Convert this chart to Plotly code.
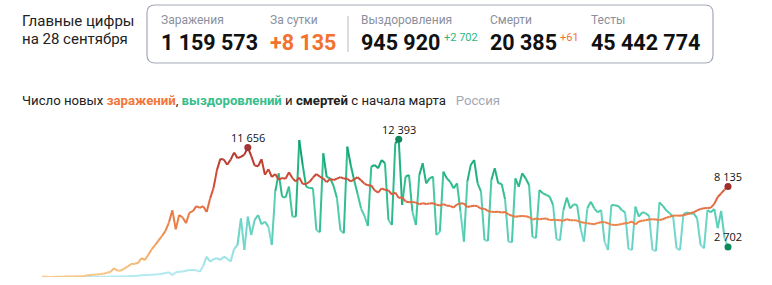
import plotly.graph_objects as go
import pandas as pd

# ---------------- data ----------------
dates = pd.date_range("2020-03-12", "2020-09-28", freq="D")

infections = [
    20, 14, 11, 5, 30, 20, 30, 50, 50, 55, 60, 70, 60,
    160, 180, 200, 230, 270, 300, 390, 480, 780, 570, 580, 750, 950, 1170, 1200, 1250,
    1700, 1530, 2000, 2500, 2880, 3300, 3700, 4150, 4900, 6000, 4300, 5580, 5350, 4850,
    5800, 5930, 6380, 6220, 6370, 5850, 7050, 8000, 9620, 10630, 10580, 10100, 10560,
    11200, 10700, 10820, 11010, 11656, 10900, 10030, 9970, 10600, 9200, 9700, 9000,
    9260, 8760, 8900, 8850, 9430, 8900, 8600, 8950, 8370, 8370, 8570, 8950, 9270, 9035,
    8860, 8536, 8830, 8726, 8855, 8985, 8858, 8835, 8595, 8779, 8987, 8706, 8404, 8248,
    8246, 7790, 7600, 7972, 7843, 7790, 7425, 7600, 7113, 7176, 6800, 6719, 6760, 6693,
    6556, 6632, 6562, 6611, 6635, 6509, 6428, 6562, 6422, 6406, 6248, 6537, 6611, 6615,
    6303, 6368, 6422, 6361, 6139, 6150, 5940, 5862, 5842, 5871, 5811, 5848, 5635, 5509,
    5427, 5462, 5482, 5475, 5394, 5159, 5267, 5204, 5241, 5267, 5118, 5159, 5129, 5102,
    5061, 5212, 5102, 5118, 5077, 4945, 4892, 4828, 4785, 4748, 4870, 4921, 4941, 4838,
    4711, 4676, 4696, 4767, 4829, 4870, 4993, 4729, 4995, 5065, 5110, 5185, 5190, 5172,
    5130, 5200, 5340, 5420, 5520, 5530, 5520, 5560, 5640, 5730, 5820, 6000, 6120, 6180,
    6200, 6240, 6570, 7200, 7520, 7870, 8135,
]

recoveries = [
    0, 0, 0, 0, 1, 1, 2, 2, 3, 3, 5, 5, 8, 8, 10, 12, 15, 20, 25, 30, 35,
    40, 45, 50, 60, 70, 80, 90, 120, 150, 180, 180, 200, 220, 250, 300, 350, 420, 150,
    420, 480, 500, 560, 630, 620, 600, 480, 1000, 1830, 1380, 1600, 1700, 1530, 1830,
    1650, 1400, 2520, 2880, 5280, 2430, 5430, 3780, 5130, 5580, 4740, 4980, 4530, 2880,
    7680, 9330, 7230, 7150, 8130, 5430, 5430, 12330, 10080, 8130, 8000, 7980, 4230, 4020,
    11130, 9000, 8880, 8200, 7080, 4200, 3930, 11730, 10080, 8730, 7500, 6180, 5500, 4600,
    9930, 10080, 9780, 10530, 10230, 5130, 4680, 12030, 12393, 6480, 9030, 9180, 5880,
    4680, 9180, 10230, 8430, 8880, 9030, 3780, 4080, 9480, 8880, 8580, 7980, 8430, 5880,
    3180, 8580, 10080, 10530, 8430, 7680, 3330, 3240, 8730, 9780, 8430, 8400, 7000, 3180,
    3120, 8880, 8130, 9330, 8880, 8280, 3600, 3500, 7830, 7530, 7400, 7230, 6480, 3400,
    3300, 6000, 7140, 6180, 6540, 6480, 4380, 3180, 6180, 6780, 6180, 5820, 6030, 3180,
    2430, 6480, 6450, 6400, 6030, 5820, 2520, 2430, 6330, 5430, 5820, 5730, 5500, 2430,
    2340, 6720, 6400, 6000, 5730, 5430, 2580, 2430, 5640, 5820, 5700, 5730, 5280, 2900,
    2580, 6030, 5820, 6120, 4400, 5940, 3500, 2702,
]

labels = ["Заражения", "За сутки", "Выздоровления", "Смерти", "Тесты"]
values = ["1 159 573", "+8 135", "945 920", "20 385", "45 442 774"]
deltas = {"Выздоровления": "+2 702", "Смерти": "+61"}

# ---------------- styling ----------------
W, H = 772, 285
L, T, PW, PH = 42, 125, 686, 152
YMAX = PH * 90.0

inf_stops = [(0, "#f7c98a"), (2500, "#f0a660"), (5000, "#ea8147"), (7000, "#df6640"),
             (9000, "#cc4935"), (12000, "#a9302b")]
rec_stops = [(0, "#b4eaf2"), (2500, "#8fdfe2"), (4500, "#66d3c2"), (7000, "#3ec59b"),
             (9500, "#20b07f"), (12500, "#0a9462")]


def hex2rgb(h):
    h = h.lstrip("#")
    return tuple(int(h[i:i + 2], 16) for i in (0, 2, 4))


def color_at(stops, v):
    if v <= stops[0][0]:
        return stops[0][1]
    for (v0, c0), (v1, c1) in zip(stops[:-1], stops[1:]):
        if v <= v1:
            t = (v - v0) / (v1 - v0)
            a, b = hex2rgb(c0), hex2rgb(c1)
            r = [round(a[k] + (b[k] - a[k]) * t) for k in range(3)]
            return "rgb(%d,%d,%d)" % tuple(r)
    return stops[-1][1]


def add_gradient_line(fig, xs, ys, stops, nbins=40, width=2):
    vmax = stops[-1][0]
    groups = {}
    for i in range(len(xs) - 1):
        m = (ys[i] + ys[i + 1]) / 2
        b = max(0, min(nbins - 1, int(m / vmax * nbins)))
        gx, gy = groups.setdefault(b, ([], []))
        gx += [xs[i], xs[i + 1], None]
        gy += [ys[i], ys[i + 1], None]
    for b in sorted(groups):
        gx, gy = groups[b]
        c = color_at(stops, (b + 0.5) / nbins * vmax)
        fig.add_trace(go.Scatter(x=gx, y=gy, mode="lines",
                                 line=dict(color=c, width=width),
                                 hoverinfo="skip", showlegend=False))


fig = go.Figure()
add_gradient_line(fig, list(dates), recoveries, rec_stops)
add_gradient_line(fig, list(dates), infections, inf_stops)

# highlighted points
i_inf_max = infections.index(max(infections))
i_rec_max = recoveries.index(max(recoveries))
pts = [
    (dates[i_inf_max], infections[i_inf_max], "#a33533"),
    (dates[i_rec_max], recoveries[i_rec_max], "#108a5c"),
    (dates[-1], infections[-1], "#9e2d2d"),
    (dates[-1], recoveries[-1], "#0b8a5a"),
]


def fmt(v):
    return "{:,}".format(int(v)).replace(",", " ")


annotations = []
for x, y, c in pts:
    fig.add_trace(go.Scatter(x=[x], y=[y], mode="markers",
                             marker=dict(color=c, size=7),
                             hoverinfo="skip", showlegend=False, cliponaxis=False))
    annotations.append(dict(x=x, y=y, xref="x", yref="y", text=fmt(y), showarrow=False,
                            yshift=10, xanchor="center", yanchor="middle",
                            font=dict(family="Open Sans", size=11, color="#111111")))


def px(X):
    return (X - L) / PW


def py(Y):
    return (T + PH - Y) / PH


def text(X, Y, s, size, color, family="Roboto", anchor="left"):
    annotations.append(dict(x=px(X), y=py(Y), xref="paper", yref="paper", text=s,
                            showarrow=False, xanchor=anchor, yanchor="middle",
                            borderpad=0,
                            font=dict(family=family, size=size, color=color)))


# header left
text(21, 21, "Главные цифры", 15, "#222222")
text(21, 39, "на 28 сентября", 15, "#222222")

# box
x0, x1, y0, y1 = px(147), px(713), py(5), py(63)
rx, ry = 8 / PW, 8 / PH
path = (f"M{x0 + rx},{y0} L{x1 - rx},{y0} Q{x1},{y0} {x1},{y0 - ry} "
        f"L{x1},{y1 + ry} Q{x1},{y1} {x1 - rx},{y1} L{x0 + rx},{y1} "
        f"Q{x0},{y1} {x0},{y1 + ry} L{x0},{y0 - ry} Q{x0},{y0} {x0 + rx},{y0} Z")
shapes = [
    dict(type="path", xref="paper", yref="paper", path=path,
         line=dict(color="#a4a9b8", width=1.2), fillcolor="rgba(0,0,0,0)"),
    dict(type="line", xref="paper", yref="paper", x0=px(348), x1=px(348),
         y0=py(16), y1=py(52), line=dict(color="#b7bac4", width=1)),
]

xs_cols = [160, 269, 360, 489, 590]
val_colors = ["#111111", "#f2722e", "#111111", "#111111", "#111111"]
for X, lab, val, vc in zip(xs_cols, labels, values, val_colors):
    text(X, 20, lab, 12, "#8b909d")
    text(X, 42, "<b>" + val + "</b>", 21.5, vc)
text(443, 37, deltas["Выздоровления"], 11, "#2db67d")
text(559, 37, deltas["Смерти"], 11, "#f2722e")

# title
title = ("Число новых <b><span style='color:#f2763a'>заражений</span></b>, "
         "<b><span style='color:#36be8c'>выздоровлений</span></b> и "
         "<b>смертей</b> с начала марта&nbsp;&nbsp;&nbsp;"
         "<span style='color:#a3a8b5'>Россия</span>")
text(21, 100, title, 13.2, "#222222", family="Roboto")

fig.update_layout(
    width=W, height=H,
    margin=dict(l=L, r=W - L - PW, t=T, b=H - T - PH),
    paper_bgcolor="white", plot_bgcolor="white",
    xaxis=dict(range=[dates[0], dates[-1]], visible=False, fixedrange=True),
    yaxis=dict(range=[0, YMAX], visible=False, fixedrange=True),
    annotations=annotations, shapes=shapes, showlegend=False,
)

fig.write_html("out.html", config={"displayModeBar": False})
